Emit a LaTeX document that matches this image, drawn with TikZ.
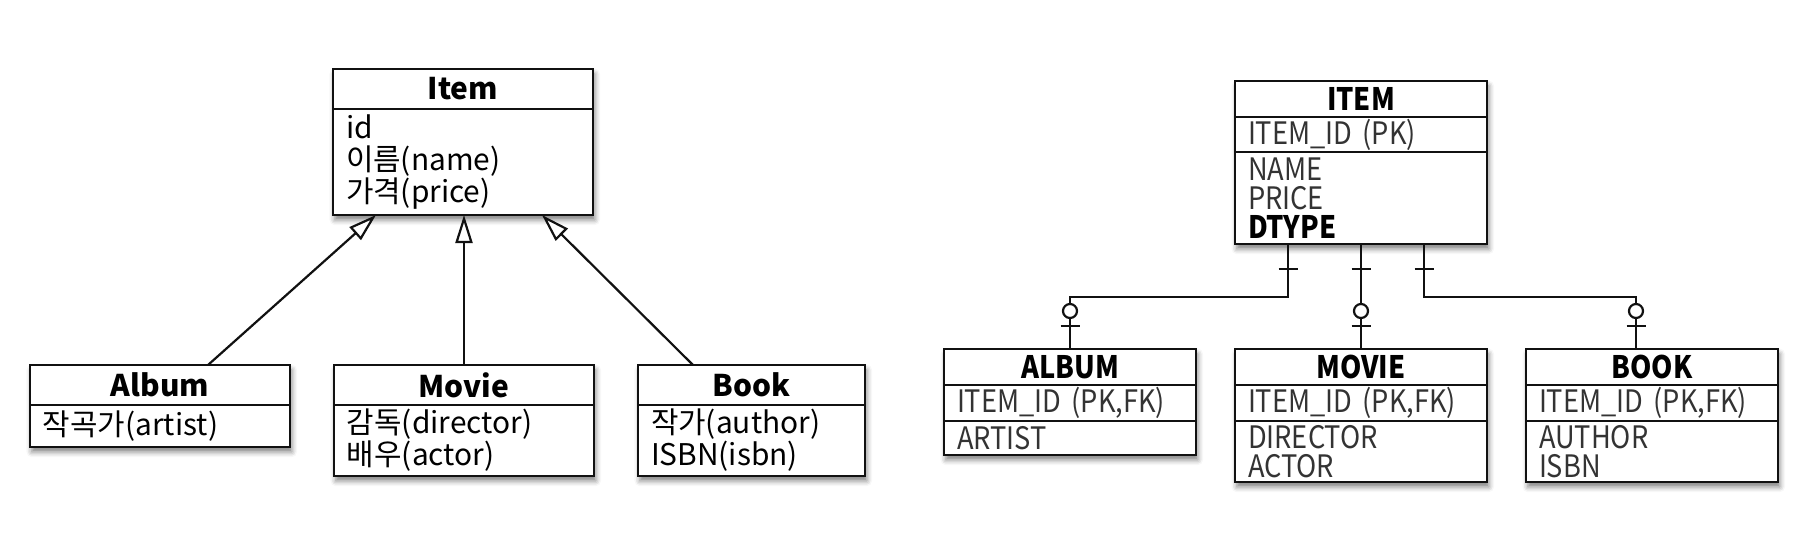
\documentclass[tikz,border=0pt]{standalone}
\usepackage{fontspec}
\setmainfont{Noto Sans CJK KR}
\newfontfamily\erdfont{Noto Sans CJK KR}[FakeStretch=0.88]
\usepackage{xcolor}
\definecolor{LineDark}{HTML}{111111}
\definecolor{ColGray}{HTML}{333333}
\usepackage{tikz}
\usetikzlibrary{arrows.meta, positioning, backgrounds, shadows.blur}

\tikzset{
  boxshadow/.style={blur shadow={shadow xshift=0.5pt, shadow yshift=-1.4pt, shadow blur radius=1.5pt, shadow opacity=50}},
  hdr/.style={draw=LineDark, line width=0.027cm, fill=white, minimum width=#1, inner sep=0pt, outer sep=0pt, font=\fontsize{8.5}{9}\selectfont\bfseries},
  attr/.style={draw=LineDark, line width=0.027cm, fill=white, text width=#1, inner xsep=0.13cm, inner ysep=0pt, outer sep=0pt, align=left, font=\fontsize{8.5}{9.1}\selectfont},
  tbl/.style={hdr=#1, font=\erdfont\fontsize{8.8}{9}\selectfont\bfseries},
  col/.style={attr=#1, text=ColGray, font=\erdfont\fontsize{8.8}{8.25}\selectfont},
  isa/.style={draw=LineDark, line width=0.022cm, -{Triangle[fill=white, length=0.28cm, width=0.17cm]}},
  rel/.style={draw=LineDark, line width=0.022cm},
}

\begin{document}
\begin{tikzpicture}[node distance=0pt]
  \useasboundingbox (0,0) rectangle (18.2,-5.48);

  % Class diagram
  \node[hdr=2.6cm, minimum height=0.4cm, anchor=north west] (item) at (3.33,-0.69) {Item};
  \node[attr=2.34cm, minimum height=1.06cm, below=of item] (item-attr) {id\\이름(name)\\가격(price)};

  \node[hdr=2.6cm, minimum height=0.4cm, anchor=north west] (album) at (0.30,-3.65) {Album};
  \node[attr=2.34cm, minimum height=0.42cm, below=of album] (album-attr) {작곡가(artist)};
  \node[hdr=2.6cm, minimum height=0.4cm, anchor=north west] (movie) at (3.34,-3.65) {Movie};
  \node[attr=2.34cm, minimum height=0.71cm, below=of movie] (movie-attr) {감독(director)\\배우(actor)};
  \node[hdr=2.27cm, minimum height=0.4cm, anchor=north west] (book) at (6.38,-3.65) {Book};
  \node[attr=2.01cm, minimum height=0.71cm, below=of book] (book-attr) {작가(author)\\ISBN(isbn)};

  \draw[isa] ([xshift=0.48cm]album.north) -- ([xshift=-0.87cm]item-attr.south);
  \draw[isa] (movie.north) -- (movie.north |- item-attr.south);
  \draw[isa] ([xshift=-0.585cm]book.north) -- ([xshift=0.79cm]item-attr.south);

  % Tables
  \node[tbl=2.52cm, minimum height=0.36cm, anchor=north west] (item-tbl) at (12.35,-0.81) {ITEM};
  \node[col=2.26cm, minimum height=0.35cm, below=of item-tbl] (item-pk) {ITEM\_ID (PK)};
  \node[col=2.26cm, minimum height=0.92cm, below=of item-pk] (item-col) {NAME\\PRICE\\{\color{black}\bfseries DTYPE}};

  \foreach \n/\x/\t/\h/\c in {album/9.44/ALBUM/0.34/ARTIST, movie/12.35/MOVIE/0.61/{DIRECTOR\\ACTOR}, book/15.26/BOOK/0.61/{AUTHOR\\ISBN}} {
    \node[tbl=2.52cm, minimum height=0.36cm, anchor=north west] (\n-tbl) at (\x,-3.49) {\t};
    \node[col=2.26cm, minimum height=0.36cm, below=of \n-tbl] (\n-pk) {ITEM\_ID (PK,FK)};
    \node[col=2.26cm, minimum height=\h cm, below=of \n-pk] (\n-col) {\c};
  }

  % one -- zero or one
  \foreach \dx/\n/\sx in {-0.73/album/0, 0/movie/0, 0.63/book/-0.16} {
    \draw[rel] ([xshift=\dx cm]item-col.south) coordinate (s) -- ++(0,-0.53) -| ([xshift=\sx cm]\n-tbl.north) coordinate (e);
    \draw[rel] ([yshift=-0.25cm]s) ++(-0.095,0) -- ++(0.19,0);
    \draw[rel] ([yshift=0.23cm]e) ++(-0.095,0) -- ++(0.19,0);
    \draw[rel, fill=white] ([yshift=0.38cm]e) circle (0.07);
  }

  % shadows
  \begin{scope}[on background layer]
    \foreach \a/\b in {item/item-attr, album/album-attr, movie/movie-attr, book/book-attr, item-tbl/item-col, album-tbl/album-col, movie-tbl/movie-col, book-tbl/book-col}
      \path[boxshadow, fill=white] (\a.north west) rectangle (\b.south east);
  \end{scope}
\end{tikzpicture}
\end{document}
